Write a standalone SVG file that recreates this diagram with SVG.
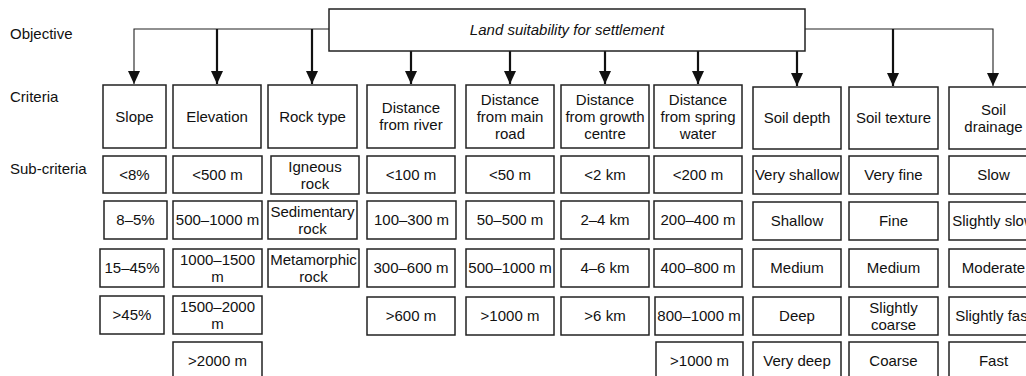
<svg xmlns="http://www.w3.org/2000/svg" width="1026" height="376" viewBox="0 0 1026 376">
<style>
text{font-family:"Liberation Sans",Arial,sans-serif;font-size:15px;fill:#111}
.c{text-anchor:middle}
.it{font-style:italic}
rect{fill:#fff;stroke:#222;stroke-width:1.5}
.thin{stroke:#222;stroke-width:1.1;fill:none}
.thick{stroke:#111;stroke-width:2.2;fill:none}
</style>
<defs>
<marker id="ah" markerUnits="userSpaceOnUse" markerWidth="13" markerHeight="12" refX="13" refY="6" orient="auto">
<path d="M0,0 L13,6 L0,12 z" fill="#111"/>
</marker>
</defs>
<rect x="0" y="0" width="1026" height="376" style="stroke:none"/>
<g id="level-labels">
<text x="10" y="39">Objective</text>
<text x="10" y="102">Criteria</text>
<text x="10" y="174">Sub-criteria</text>
</g>
<g id="connectors">
<path class="thin" d="M329,29 H134 V84" marker-end="url(#ah)"/>
<path class="thick" d="M217,29 V84" marker-end="url(#ah)"/>
<path class="thick" d="M312,29 V84" marker-end="url(#ah)"/>
<path class="thick" d="M411,51 V84" marker-end="url(#ah)"/>
<path class="thick" d="M510,51 V84" marker-end="url(#ah)"/>
<path class="thick" d="M605,51 V84" marker-end="url(#ah)"/>
<path class="thick" d="M698,51 V84" marker-end="url(#ah)"/>
<path class="thick" d="M797,51 V86" marker-end="url(#ah)"/>
<path class="thin" d="M805,29 H993 V86" marker-end="url(#ah)"/>
<path class="thick" d="M893,29 V86" marker-end="url(#ah)"/>
</g>
<g id="objective">
<rect x="329" y="9" width="476" height="42"/>
<text class="c it" x="567" y="35">Land suitability for settlement</text>
</g>
<g id="slope">
<rect x="103" y="85" width="63" height="63"/><text class="c" x="134.5" y="121.5">Slope</text>
<rect x="103" y="156" width="63" height="37"/><text class="c" x="134.5" y="179.5">&lt;8%</text>
<rect x="104" y="201" width="63" height="38"/><text class="c" x="135.5" y="225">8–5%</text>
<rect x="100" y="249" width="64" height="38"/><text class="c" x="132" y="273">15–45%</text>
<rect x="100" y="296" width="64" height="38"/><text class="c" x="132" y="320">&gt;45%</text>
</g>
<g id="elevation">
<rect x="173" y="85" width="88" height="63"/><text class="c" x="217" y="121.5">Elevation</text>
<rect x="173" y="156" width="89" height="37"/><text class="c" x="217.5" y="179.5">&lt;500 m</text>
<rect x="173" y="201" width="89" height="38"/><text class="c" x="217.5" y="225">500–1000 m</text>
<rect x="173" y="249" width="89" height="38"/><text class="c" x="217.5" y="264.5">1000–1500</text><text class="c" x="217.5" y="281.5">m</text>
<rect x="173" y="296" width="89" height="38"/><text class="c" x="217.5" y="311.5">1500–2000</text><text class="c" x="217.5" y="328.5">m</text>
<rect x="173" y="342" width="89" height="40"/><text class="c" x="217.5" y="366">&gt;2000 m</text>
</g>
<g id="rock-type">
<rect x="268" y="85" width="89" height="63"/><text class="c" x="312.5" y="121.5">Rock type</text>
<rect x="271" y="156" width="88" height="38"/><text class="c" x="315" y="171.5">Igneous</text><text class="c" x="315" y="188.5">rock</text>
<rect x="268" y="201" width="89" height="38"/><text class="c" x="312.5" y="216.5">Sedimentary</text><text class="c" x="312.5" y="233.5">rock</text>
<rect x="268" y="249" width="91" height="38"/><text class="c" x="313.5" y="264.5">Metamorphic</text><text class="c" x="313.5" y="281.5">rock</text>
</g>
<g id="distance-river">
<rect x="367" y="85" width="88" height="63"/><text class="c" x="411" y="113">Distance</text><text class="c" x="411" y="130">from river</text>
<rect x="367" y="156" width="88" height="37"/><text class="c" x="411" y="179.5">&lt;100 m</text>
<rect x="367" y="201" width="89" height="38"/><text class="c" x="411.5" y="225">100–300 m</text>
<rect x="367" y="249" width="88" height="38"/><text class="c" x="411" y="273">300–600 m</text>
<rect x="367" y="297" width="88" height="38"/><text class="c" x="411" y="321">&gt;600 m</text>
</g>
<g id="distance-road">
<rect x="466" y="85" width="88" height="63"/><text class="c" x="510" y="104.5">Distance</text><text class="c" x="510" y="121.5">from main</text><text class="c" x="510" y="138.5">road</text>
<rect x="466" y="156" width="88" height="37"/><text class="c" x="510" y="179.5">&lt;50 m</text>
<rect x="466" y="201" width="88" height="38"/><text class="c" x="510" y="225">50–500 m</text>
<rect x="466" y="249" width="88" height="38"/><text class="c" x="510" y="273">500–1000 m</text>
<rect x="466" y="297" width="88" height="38"/><text class="c" x="510" y="321">&gt;1000 m</text>
</g>
<g id="distance-growth">
<rect x="561" y="85" width="88" height="63"/><text class="c" x="605" y="104.5">Distance</text><text class="c" x="605" y="121.5">from growth</text><text class="c" x="605" y="138.5">centre</text>
<rect x="561" y="156" width="88" height="37"/><text class="c" x="605" y="179.5">&lt;2 km</text>
<rect x="561" y="201" width="88" height="38"/><text class="c" x="605" y="225">2–4 km</text>
<rect x="561" y="249" width="88" height="38"/><text class="c" x="605" y="273">4–6 km</text>
<rect x="561" y="297" width="88" height="38"/><text class="c" x="605" y="321">&gt;6 km</text>
</g>
<g id="distance-spring">
<rect x="654" y="85" width="88" height="63"/><text class="c" x="698" y="104.5">Distance</text><text class="c" x="698" y="121.5">from spring</text><text class="c" x="698" y="138.5">water</text>
<rect x="654" y="156" width="88" height="37"/><text class="c" x="698" y="179.5">&lt;200 m</text>
<rect x="654" y="201" width="88" height="38"/><text class="c" x="698" y="225">200–400 m</text>
<rect x="654" y="249" width="88" height="38"/><text class="c" x="698" y="273">400–800 m</text>
<rect x="655" y="297" width="88" height="38"/><text class="c" x="699" y="321">800–1000 m</text>
<rect x="656" y="342" width="87" height="40"/><text class="c" x="699.5" y="366">&gt;1000 m</text>
</g>
<g id="soil-depth">
<rect x="753" y="87" width="88" height="62"/><text class="c" x="797" y="123">Soil depth</text>
<rect x="753" y="156" width="88" height="38"/><text class="c" x="797" y="180">Very shallow</text>
<rect x="753" y="202" width="88" height="38"/><text class="c" x="797" y="226">Shallow</text>
<rect x="753" y="249" width="88" height="38"/><text class="c" x="797" y="273">Medium</text>
<rect x="753" y="297" width="88" height="38"/><text class="c" x="797" y="321">Deep</text>
<rect x="753" y="342" width="88" height="40"/><text class="c" x="797" y="366">Very deep</text>
</g>
<g id="soil-texture">
<rect x="849" y="87" width="89" height="62"/><text class="c" x="893.5" y="123">Soil texture</text>
<rect x="849" y="156" width="89" height="38"/><text class="c" x="893.5" y="180">Very fine</text>
<rect x="849" y="202" width="89" height="38"/><text class="c" x="893.5" y="226">Fine</text>
<rect x="849" y="249" width="89" height="38"/><text class="c" x="893.5" y="273">Medium</text>
<rect x="849" y="297" width="89" height="38"/><text class="c" x="893.5" y="312.5">Slightly</text><text class="c" x="893.5" y="329.5">coarse</text>
<rect x="849" y="342" width="89" height="40"/><text class="c" x="893.5" y="366">Coarse</text>
</g>
<g id="soil-drainage">
<rect x="949" y="87" width="90" height="62"/><text class="c" x="993.5" y="114.5">Soil</text><text class="c" x="993.5" y="131.5">drainage</text>
<rect x="949" y="156" width="90" height="38"/><text class="c" x="993.5" y="180">Slow</text>
<rect x="949" y="202" width="90" height="38"/><text class="c" x="993.5" y="226">Slightly slow</text>
<rect x="949" y="249" width="90" height="38"/><text class="c" x="993.5" y="273">Moderate</text>
<rect x="949" y="297" width="90" height="38"/><text class="c" x="993.5" y="321">Slightly fast</text>
<rect x="949" y="342" width="90" height="40"/><text class="c" x="993.5" y="366">Fast</text>
</g>
</svg>
